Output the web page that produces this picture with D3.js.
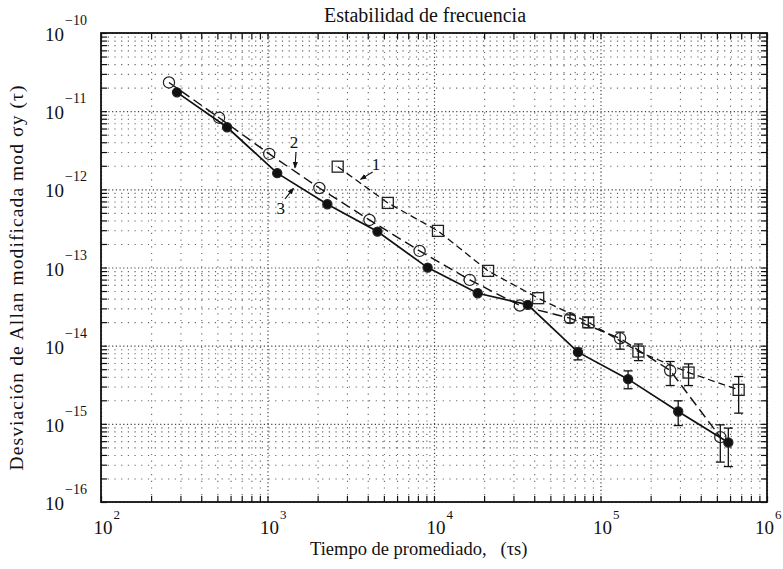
<!DOCTYPE html>
<html>
<head>
<meta charset="utf-8">
<script src="https://cdn.jsdelivr.net/npm/d3@7"></script>
<style>
  html, body { margin: 0; padding: 0; background: #fff; }
  svg { display: block; font-family: "Liberation Serif", "Times New Roman", serif; }
</style>
</head>
<body>
<svg id="chart" width="783" height="569"></svg>
<script>
// ---------- data ----------
const titleText = "Estabilidad de frecuencia";
const xLabelText = "Tiempo de promediado,   (τs)";
const yLabelText = "Desviación de Allan modificada mod σy (τ)";

const xTickExponents = [2, 3, 4, 5, 6];
const yTickExponents = [-16, -15, -14, -13, -12, -11, -10];

// Curve 1 (open squares, dashed)
const tau1 = [2640, 5280, 10560, 21120, 42240, 84480, 168960, 337920, 675840];
const sig1 = [1.95e-12, 6.70e-13, 2.94e-13, 9.05e-14, 4.05e-14, 1.99e-14, 8.41e-15, 4.53e-15, 2.72e-15];
const err1Lo = [null, null, null, null, null, 1.70e-14, 6.44e-15, 3.09e-15, 1.37e-15];
const err1Hi = [null, null, null, null, null, 2.29e-14, 1.05e-14, 5.85e-15, 4.03e-15];

// Curve 2 (open circles, long dashes)
const tau2 = [256, 512, 1024, 2048, 4096, 8192, 16384, 32768, 65536, 131072, 262144, 524288];
const sig2 = [2.33e-11, 8.24e-12, 2.84e-12, 1.04e-12, 4.06e-13, 1.63e-13, 6.94e-14, 3.26e-14, 2.25e-14, 1.24e-14, 4.81e-15, 6.76e-16];
const err2Lo = [null, null, null, null, null, null, null, null, 1.96e-14, 9.02e-15, 3.09e-15, 3.24e-16];
const err2Hi = [null, null, null, null, null, null, null, null, 2.48e-14, 1.49e-14, 6.27e-15, 9.71e-16];

// Curve 3 (filled circles, solid)
const tau3 = [286, 572, 1144, 2288, 4576, 9152, 18304, 36608, 73216, 146432, 292864, 585728];
const sig3 = [1.74e-11, 6.22e-12, 1.61e-12, 6.45e-13, 2.88e-13, 9.97e-14, 4.69e-14, 3.33e-14, 8.26e-15, 3.73e-15, 1.44e-15, 5.77e-16];
const err3Lo = [null, null, null, null, null, null, null, null, 6.58e-15, 2.81e-15, 9.51e-16, 2.84e-16];
const err3Hi = [null, null, null, null, null, null, null, null, 9.29e-15, 4.76e-15, 1.97e-15, 8.81e-16];

// curve annotations: label, label position (tau, value), arrow start, arrow end
const annLabels = ["1", "2", "3"];
const annText = [[4484, 1.77e-12], [1442, 3.38e-12], [1200, 4.85e-13]];
const annFrom = [[4283, 1.67e-12], [1483, 3.01e-12], [1274, 7.53e-13]];
const annTo = [[3619, 1.34e-12], [1462, 1.88e-12], [1432, 1.03e-12]];

// ---------- layout ----------
const W = 783;
const L = 101, R = 767, T = 33, B = 502;
const svg = d3.select("#chart");

const x = d3.scaleLog().domain([1e2, 1e6]).range([L, R]);
const y = d3.scaleLog().domain([1e-16, 1e-10]).range([B, T]);

const xMajor = xTickExponents.map(e => Math.pow(10, e));
const yMajor = yTickExponents.map(e => Math.pow(10, e));
const xMinor = [];
xTickExponents.slice(0, -1).forEach(e => { for (let k = 2; k <= 9; k++) xMinor.push(k * Math.pow(10, e)); });
const yMinor = [];
yTickExponents.slice(0, -1).forEach(e => { for (let k = 2; k <= 9; k++) yMinor.push(k * Math.pow(10, e)); });

// ---------- grid ----------
function gridAxis(gen, vals, size) {
  return gen.tickValues(vals).tickSize(size).tickFormat("");
}
const gMinX = svg.append("g").attr("transform", `translate(0,${B})`)
  .call(gridAxis(d3.axisBottom(x), xMinor, -(B - T)));
const gMajX = svg.append("g").attr("transform", `translate(0,${B})`)
  .call(gridAxis(d3.axisBottom(x), xMajor, -(B - T)));
const gMinY = svg.append("g").attr("transform", `translate(${L},0)`)
  .call(gridAxis(d3.axisLeft(y), yMinor, -(R - L)));
const gMajY = svg.append("g").attr("transform", `translate(${L},0)`)
  .call(gridAxis(d3.axisLeft(y), yMajor, -(R - L)));
[gMinX, gMajX, gMinY, gMajY].forEach(g => g.select(".domain").remove());
[gMinX, gMinY].forEach(g => g.selectAll("line").attr("stroke", "#666").attr("stroke-width", 1.1).attr("stroke-dasharray", "1.2,5.5"));
[gMajX, gMajY].forEach(g => g.selectAll("line").attr("stroke", "#444").attr("stroke-width", 1.2).attr("stroke-dasharray", "1.2,2.5"));

// ---------- inner ticks on all sides ----------
function tickAxis(gen, vals, size) { return gen.tickValues(vals).tickSize(size).tickFormat(""); }
const allX = xMinor.concat(xMajor), allY = yMinor.concat(yMajor);
const tb = svg.append("g").attr("transform", `translate(0,${B})`).call(tickAxis(d3.axisBottom(x), allX, -6));
const tt = svg.append("g").attr("transform", `translate(0,${T})`).call(tickAxis(d3.axisTop(x), allX, -6));
const tl = svg.append("g").attr("transform", `translate(${L},0)`).call(tickAxis(d3.axisLeft(y), allY, -6));
const tr = svg.append("g").attr("transform", `translate(${R},0)`).call(tickAxis(d3.axisRight(y), allY, -6));
[tb, tt, tl, tr].forEach(g => { g.select(".domain").remove(); g.selectAll("line").attr("stroke", "#111").attr("stroke-width", 1.2); });

// frame
svg.append("rect").attr("x", L).attr("y", T).attr("width", R - L).attr("height", B - T)
  .attr("fill", "none").attr("stroke", "#111").attr("stroke-width", 1.8);

// ---------- tick labels ----------
const xl = svg.append("g");
xTickExponents.forEach(e => {
  const px = x(Math.pow(10, e));
  const supX = Math.min(px + 12.5, W - 8);
  const tenX = Math.min(px - 7, supX - 20);
  xl.append("text").attr("x", tenX).attr("y", B + 32).attr("font-size", 19).attr("fill", "#111").text("10");
  xl.append("text").attr("x", supX).attr("y", B + 17).attr("font-size", 13).attr("fill", "#111").text(e);
});
const yl = svg.append("g");
yTickExponents.forEach(e => {
  const py = y(Math.pow(10, e));
  yl.append("text").attr("x", 64).attr("y", py + 8).attr("text-anchor", "end").attr("font-size", 19).attr("fill", "#111").text("10");
  yl.append("text").attr("x", 65).attr("y", py - 8).attr("font-size", 14).attr("fill", "#111").text("−" + Math.abs(e));
});

// ---------- titles ----------
svg.append("text").attr("x", 425).attr("y", 22).attr("text-anchor", "middle").attr("font-size", 20)
  .attr("fill", "#111").text(titleText);
svg.append("text").attr("x", 310).attr("y", 555).attr("font-size", 18.5).attr("fill", "#111")
  .attr("xml:space", "preserve").style("white-space", "pre").text(xLabelText);
svg.append("text").attr("transform", "translate(23,278) rotate(-90)").attr("text-anchor", "middle")
  .attr("font-size", 19.5).attr("textLength", 385).attr("lengthAdjust", "spacing")
  .attr("fill", "#111").text(yLabelText);

// ---------- series ----------
const line = d3.line().x(d => x(d[0])).y(d => y(d[1]));
function drawSeries(taus, sigs, lo, hi, opts) {
  const pts = taus.map((t, i) => [t, sigs[i]]);
  const g = svg.append("g");
  g.append("path").datum(pts).attr("d", line).attr("fill", "none").attr("stroke", "#111")
    .attr("stroke-width", opts.width).attr("stroke-dasharray", opts.dash || null);
  // error bars
  const eb = taus.map((t, i) => ({ t, lo: lo[i], hi: hi[i] })).filter(d => d.lo != null);
  eb.forEach(d => {
    const px = x(d.t);
    g.append("line").attr("x1", px).attr("x2", px).attr("y1", y(d.hi)).attr("y2", y(d.lo)).attr("stroke", "#111").attr("stroke-width", 1.3);
    [d.hi, d.lo].forEach(v => g.append("line").attr("x1", px - 4.5).attr("x2", px + 4.5).attr("y1", y(v)).attr("y2", y(v))
      .attr("stroke", "#111").attr("stroke-width", 1.3));
  });
  // markers
  if (opts.marker === "square") {
    g.selectAll("rect.m").data(pts).join("rect").attr("class", "m")
      .attr("x", d => x(d[0]) - 5.5).attr("y", d => y(d[1]) - 5.5).attr("width", 11).attr("height", 11)
      .attr("fill", "none").attr("stroke", "#222").attr("stroke-width", 1.3);
  } else {
    g.selectAll("circle.m").data(pts).join("circle").attr("class", "m")
      .attr("cx", d => x(d[0])).attr("cy", d => y(d[1])).attr("r", opts.marker === "filled" ? 4.6 : 5.6)
      .attr("fill", opts.marker === "filled" ? "#111" : "none").attr("stroke", "#222").attr("stroke-width", 1.2);
  }
}
drawSeries(tau1, sig1, err1Lo, err1Hi, { width: 1.3, dash: "7,4", marker: "square" });
drawSeries(tau2, sig2, err2Lo, err2Hi, { width: 1.4, dash: "10,5", marker: "open" });
drawSeries(tau3, sig3, err3Lo, err3Hi, { width: 1.7, dash: null, marker: "filled" });

// ---------- annotations ----------
svg.append("defs").append("marker").attr("id", "ah").attr("viewBox", "0 0 10 10")
  .attr("refX", 9).attr("refY", 5).attr("markerWidth", 6).attr("markerHeight", 6).attr("orient", "auto")
  .append("path").attr("d", "M0,1 L10,5 L0,9 Z").attr("fill", "#111");
annLabels.forEach((lab, i) => {
  svg.append("text").attr("x", x(annText[i][0])).attr("y", y(annText[i][1])).attr("text-anchor", "middle")
    .attr("font-size", 17).attr("fill", "#111").text(lab);
  svg.append("line").attr("x1", x(annFrom[i][0])).attr("y1", y(annFrom[i][1]))
    .attr("x2", x(annTo[i][0])).attr("y2", y(annTo[i][1]))
    .attr("stroke", "#111").attr("stroke-width", 1.1).attr("marker-end", "url(#ah)");
});
</script>
</body>
</html>
